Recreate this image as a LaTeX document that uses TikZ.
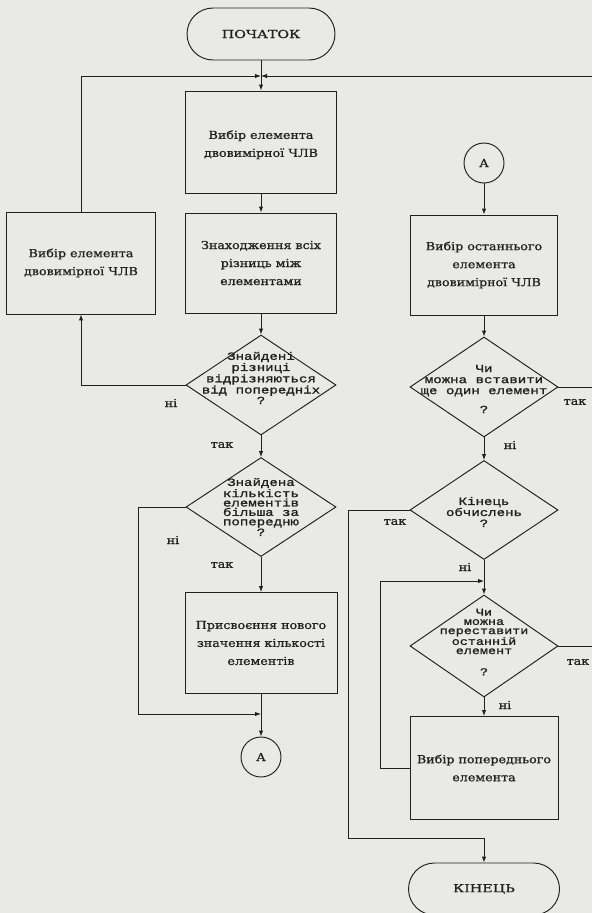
\documentclass[tikz,border=0pt]{standalone}
\usepackage{fontspec}
\setmainfont{DejaVu Serif}
\newfontfamily\boxf[FakeStretch=1.15,FakeBold=1]{DejaVu Serif}
\newfontfamily\termf[FakeStretch=1.3,FakeBold=1]{DejaVu Serif}
\newfontfamily\monof[FakeStretch=1.28,FakeBold=1.3]{Liberation Mono}
\usetikzlibrary{arrows.meta,shapes.geometric}
\definecolor{bg}{RGB}{233,233,231}
\definecolor{ink}{RGB}{32,32,32}
\begin{document}
\begin{tikzpicture}[x=1pt,y=-1pt,
  color=ink,line width=0.95pt,
  arr/.style={-{Latex[length=6pt,width=4.5pt]}},
  proc/.style={draw=ink,line width=0.95pt,rectangle,inner sep=0pt,align=center,text=ink,
    font=\boxf\fontsize{11}{18}\selectfont},
  term/.style={draw=ink,line width=0.95pt,rectangle,rounded corners=26pt,inner sep=0pt,
    minimum width=148pt,minimum height=52pt,text=ink,font=\termf\fontsize{11}{13}\selectfont},
  dec/.style={draw=ink,line width=0.95pt,diamond,inner sep=0pt,minimum width=150pt,minimum height=100pt},
  dtext/.style={align=center,inner sep=0pt,text=ink,font=\monof\fontsize{11}{9.4}\selectfont},
  conn/.style={draw=ink,line width=0.95pt,circle,inner sep=0pt,minimum size=40pt,text=ink,
    font=\boxf\fontsize{11}{13}\selectfont},
  lbl/.style={inner sep=0pt,text=ink,font=\boxf\fontsize{11}{13}\selectfont}
]
\useasboundingbox (0,0) rectangle (592,913);
\clip (0,0) rectangle (592,913);
\fill[bg] (0,0) rectangle (592,913);

% ---------- main column ----------
\node[term] (st) at (261,34) {ПОЧАТОК};
\coordinate (j1) at (261,76);
\node[proc,minimum width=151pt,minimum height=102pt] (b1) at (261,142) {\\[-4pt]Вибір елемента\\двовимірної ЧЛВ};
\node[proc,minimum width=151pt,minimum height=100pt] (b2) at (261,263) {Знаходження всіх\\різниць між\\елементами};
\node[proc,minimum width=149pt,minimum height=102pt] (lb) at (81,263) {Вибір елемента\\двовимірної ЧЛВ};
\node[dec] (d1) at (261,385) {};
\node[dtext] (t1) at (261,378) {Знайдені\\різниці\\відрізняються\\від попередніх\\?};
\node[dec,minimum height=99pt] (d2) at (261,507) {};
\node[dtext] (t2) at (261,507) {Знайдена\\кількість\\елементів\\більша за\\попередню\\?};
\node[proc,minimum width=152pt,minimum height=101pt] (b3) at (261,643) {Присвоєння нового\\значення кількості\\елементів};
\node[conn] (ca) at (261,757) {А};

% ---------- right column ----------
\node[conn] (cb) at (484,163) {А};
\node[proc,minimum width=147pt,minimum height=100pt] (rb) at (484,265) {Вибір останнього\\елемента\\двовимірної ЧЛВ};
\node[dec,minimum width=148pt] (d3) at (484,387) {};
\node[dtext,font=\monof\fontsize{11}{11}\selectfont] (t3) at (484,389) {Чи\\можна вставити\\ще один елемент\\[8pt]?};
\node[dec,minimum width=148pt,minimum height=99pt] (d4) at (484,510) {};
\node[dtext,font=\monof\fontsize{11}{11}\selectfont] (t4) at (484,512) {Кінець\\обчислень\\?};
\node[dec,minimum width=148pt,minimum height=102pt] (d5) at (484,646) {};
\node[dtext,font=\monof\fontsize{10.5}{9.2}\selectfont] (t5) at (484,642) {Чи\\можна\\переставити\\останній\\елемент\\[12pt]?};
\node[proc,minimum width=148pt,minimum height=103pt] (pb) at (484,768) {Вибір попереднього\\елемента};
\node[term,minimum width=151pt] (en) at (484,889) {КІНЕЦЬ};

% ---------- labels ----------
\node[lbl] (l1) at (171,403) {ні};
\node[lbl] (l2) at (222,445) {так};
\node[lbl] (l3) at (173,540) {ні};
\node[lbl] (l4) at (222,565) {так};
\node[lbl] (l5) at (575,402) {так};
\node[lbl] (l6) at (510,445) {ні};
\node[lbl] (l7) at (395,522) {так};
\node[lbl] (l8) at (465,567) {ні};
\node[lbl] (l9) at (578,662) {так};
\node[lbl] (l10) at (505,705) {ні};

% ---------- coordinates ----------
\coordinate (rt) at (592,76);
\coordinate (k1) at (138,714);
\coordinate (m1) at (261,714);
\coordinate (r3) at (592,387);
\coordinate (k3) at (380,581);
\coordinate (j3) at (484,581);
\coordinate (r5) at (592,646);
\coordinate (k4) at (348,838);
\coordinate (j4) at (484,838);

% ---------- connectors ----------
\draw (st.south) -- (j1);
\draw[arr] (j1) -- (b1.north);
\draw[arr] (lb.north) |- (j1);
\draw[arr] (rt) -- (j1);
\draw[arr] (b1.south) -- (b2.north);
\draw[arr] (b2.south) -- (d1.north);
\draw[arr] (d1.west) -| (lb.south);
\draw[arr] (d1.south) -- (d2.north);
\draw[arr] (d2.south) -- (b3.north);
\draw[arr] (d2.west) -| (k1) -- (m1);
\draw[arr] (b3.south) -- (ca.north);

\draw[arr] (cb.south) -- (rb.north);
\draw[arr] (rb.south) -- (d3.north);
\draw (d3.east) -- (r3);
\draw[arr] (d3.south) -- (d4.north);
\draw[arr] (d4.south) -- (d5.north);
\draw[arr] (pb.west) -| (k3) -- (j3);
\draw (d5.east) -- (r5);
\draw[arr] (d5.south) -- (pb.north);
\draw[arr] (d4.west) -| (k4) -- (j4) -- (en.north);
\end{tikzpicture}
\end{document}
